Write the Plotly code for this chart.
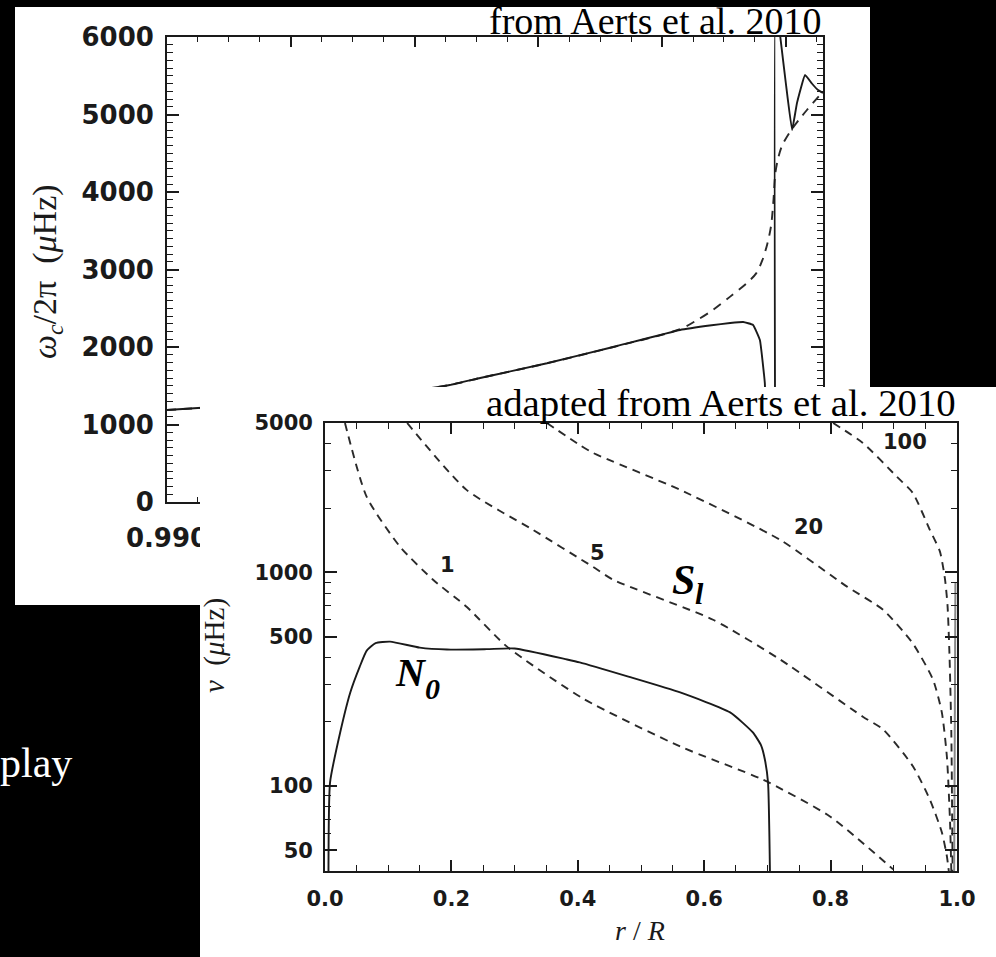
import math
import plotly.graph_objects as go

W, H = 996, 957

# ---------------- top chart: acoustic cut-off frequency near the surface ----------------
top_r_solid = [0.99000, 0.99200, 0.99400, 0.99457, 0.99506, 0.99614, 0.99721, 0.99829, 0.99880,
               0.99910, 0.99931, 0.99947, 0.99958, 0.99966, 0.99972, 0.99978, None,
               0.99983, 0.99983, 0.99991, 1.00000, 1.00010, 1.00018, 1.00031, 1.00042,
               1.00052, 1.00060]
top_wc_solid = [1187, 1290, 1440, 1510, 1600, 1790, 2000, 2220, 2280,
                2310, 2323, 2284, 2090, 1535, 300, -400, None,
                -400, 6500, 6000, 5400, 4800, 5150, 5510, 5400,
                5316, 5277]
top_r_dash = [0.99000, 0.99200, 0.99400, 0.99457, 0.99506, 0.99614, 0.99721, 0.99829, 0.99857,
              0.99882, 0.99910, 0.99937, 0.99952, 0.99962, 0.99970, 0.99976, 0.99980, 0.99983,
              0.99988, 0.99994, 1.00007, 1.00020, 1.00034, 1.00055]
top_wc_dash = [1187, 1290, 1440, 1510, 1600, 1790, 2000, 2230, 2350,
               2477, 2650, 2826, 2950, 3120, 3330, 3560, 3900, 4245,
               4450, 4600, 4780, 4920, 5058, 5250]
top_xtick_vals = [0.990, 0.992, 0.994, 0.996, 0.998, 1.000]
top_xtick_text = ["0.990", "0.992", "0.994", "0.996", "0.998", "1.000"]
top_ytick_vals = [0, 1000, 2000, 3000, 4000, 5000, 6000]
top_ytick_text = ["0", "1000", "2000", "3000", "4000", "5000", "6000"]

# ---------------- bottom chart: propagation diagram ----------------
N0_r = [0.0055, 0.0080, 0.024, 0.040, 0.055, 0.066, 0.080, 0.103, 0.150, 0.193, 0.256,
        0.300, 0.383, 0.403, 0.480, 0.562, 0.641, 0.677, 0.690, 0.696, 0.701, 0.704]
N0_nu = [40, 104, 178, 274, 362, 430, 466, 474, 444, 435, 437,
         440, 391, 379, 325, 274, 221, 178, 155, 133, 104, 40]
N0s_r = [0.9955, 0.9965, 0.9975]
N0s_nu = [40, 300, 900]

S1_r = [0.0316, 0.066, 0.119, 0.171, 0.224, 0.288, 0.409, 0.562, 0.693, 0.799, 0.899]
S1_nu = [5000, 2254, 1315, 923, 690, 449, 256, 153, 107, 72, 40.7]
S5_r = [0.130, 0.224, 0.329, 0.424, 0.456, 0.614, 0.720, 0.851, 0.883, 0.930, 0.957,
        0.976, 0.984, 0.987]
S5_nu = [5000, 2432, 1581, 1061, 923, 600, 391, 211, 184, 124, 86.5, 60.7, 46.9, 40]
S20_r = [0.351, 0.403, 0.424, 0.562, 0.720, 0.826, 0.883, 0.930, 0.962, 0.976, 0.984,
         0.989, 0.991]
S20_nu = [5000, 3945, 3624, 2432, 1420, 857, 668, 465, 315, 221, 137, 67.6, 40]
S100_r = [0.804, 0.851, 0.905, 0.930, 0.957, 0.973, 0.981, 0.985, 0.988, 0.991, 0.993]
S100_nu = [5000, 4034, 2800, 2355, 1581, 1250, 930, 700, 420, 180, 40]

bot_xtick_vals = [0.0, 0.2, 0.4, 0.6, 0.8, 1.0]
bot_xtick_text = ["0.0", "0.2", "0.4", "0.6", "0.8", "1.0"]
bot_ytick_vals = [50, 100, 500, 1000, 5000]
bot_ytick_text = ["50", "100", "500", "1000", "5000"]
bot_yminor_vals = [40, 60, 70, 80, 90, 200, 300, 400, 600, 700, 800, 900, 2000, 3000, 4000]


def px(x):
    return x / W


def py(y):
    return 1 - y / H


INK = "#1a1a1a"
DASH_INK = "#2a2a2a"
fig = go.Figure()

# top chart traces
fig.add_trace(go.Scatter(x=top_r_dash, y=top_wc_dash, mode="lines", xaxis="x", yaxis="y",
                         line=dict(color=DASH_INK, width=1.9, dash="9px,7px", shape="spline", smoothing=0.9),
                         showlegend=False, hoverinfo="skip"))
fig.add_trace(go.Scatter(x=top_r_solid, y=top_wc_solid, mode="lines", xaxis="x", yaxis="y",
                         line=dict(color=INK, width=1.9, shape="spline", smoothing=0.3),
                         connectgaps=False, showlegend=False, hoverinfo="skip"))

# empty subplot whose white plot area is the pasted second image (covers the top chart)
fig.add_trace(go.Scatter(x=[None], y=[None], mode="lines", xaxis="x2", yaxis="y2",
                         showlegend=False, hoverinfo="skip"))

# bottom chart traces
for rr, vv in [(S1_r, S1_nu), (S5_r, S5_nu), (S20_r, S20_nu), (S100_r, S100_nu)]:
    fig.add_trace(go.Scatter(x=rr, y=vv, mode="lines", xaxis="x3", yaxis="y3",
                             line=dict(color=DASH_INK, width=1.9, dash="8px,6px", shape="spline", smoothing=0.6),
                             showlegend=False, hoverinfo="skip"))
fig.add_trace(go.Scatter(x=N0_r, y=N0_nu, mode="lines", xaxis="x3", yaxis="y3",
                         line=dict(color=INK, width=1.9, shape="spline", smoothing=0.5),
                         showlegend=False, hoverinfo="skip"))
fig.add_trace(go.Scatter(x=N0s_r, y=N0s_nu, mode="lines", xaxis="x3", yaxis="y3",
                         line=dict(color="#888888", width=2),
                         showlegend=False, hoverinfo="skip"))

tick_top = dict(family="DejaVu Sans", size=26, color=INK, weight="bold")
tick_bot = dict(family="DejaVu Sans", size=21, color=INK, weight="bold")
axis_common = dict(showline=True, linecolor=INK, linewidth=1.8, mirror="ticks", automargin=False,
                   ticks="inside", tickcolor=INK, tickwidth=1.6, showgrid=False, zeroline=False)

fig.update_layout(
    width=W, height=H, margin=dict(l=0, r=0, t=0, b=0, autoexpand=False),
    paper_bgcolor="black", plot_bgcolor="white",
    xaxis=dict(domain=[px(167), px(823)], range=[0.990, 1.0006], anchor="y",
               tickmode="array", tickvals=top_xtick_vals, ticktext=top_xtick_text,
               ticklen=10, tickfont=tick_top, ticklabelstandoff=12,
               minor=dict(tick0=0.990, dtick=0.0005, ticklen=5, ticks="inside", tickcolor=INK, tickwidth=1.4),
               **axis_common),
    yaxis=dict(domain=[py(502), py(37)], range=[0, 6000], anchor="x",
               tickmode="array", tickvals=top_ytick_vals, ticktext=top_ytick_text,
               ticklen=12, tickfont=tick_top, ticklabelstandoff=6,
               minor=dict(tick0=0, dtick=100, ticklen=6, ticks="inside", tickcolor=INK, tickwidth=1.4),
               **axis_common),
    xaxis2=dict(domain=[px(200), 1.0], range=[0, 1], anchor="y2", visible=False, automargin=False),
    yaxis2=dict(domain=[0.0, py(387)], range=[0, 1], anchor="x2", visible=False, automargin=False),
    xaxis3=dict(domain=[px(325), px(957)], range=[0, 1], anchor="y3",
                tickmode="array", tickvals=bot_xtick_vals, ticktext=bot_xtick_text,
                ticklen=11, tickfont=tick_bot, ticklabelstandoff=8,
                minor=dict(tick0=0, dtick=0.05, ticklen=6, ticks="inside", tickcolor=INK, tickwidth=1.4),
                **axis_common),
    yaxis3=dict(domain=[py(871), py(423)], type="log", range=[math.log10(40), math.log10(5000)], anchor="x3",
                tickmode="array", tickvals=bot_ytick_vals, ticktext=bot_ytick_text,
                ticklen=12, tickfont=tick_bot, ticklabelstandoff=6,
                minor=dict(tickmode="array", tickvals=bot_yminor_vals, ticklen=6, ticks="inside",
                           tickcolor=INK, tickwidth=1.4),
                **axis_common),
)

# white background of the first pasted image (beneath its chart)
fig.add_shape(type="rect", xref="x domain", yref="y domain", layer="below",
              x0=(15 - 167) / 656, x1=(870 - 167) / 656, y0=(502 - 605) / 465, y1=(502 - 7) / 465,
              fillcolor="white", line=dict(width=0))

serif = "Liberation Serif"
ann = []
ann.append(dict(x=px(487), y=py(21), xanchor="left", yanchor="middle",
                text="from Aerts et al. 2010", font=dict(family=serif, size=38, color="black")))
ann.append(dict(x=px(484), y=py(403), xanchor="left", yanchor="middle",
                text="adapted from Aerts et al. 2010", font=dict(family=serif, size=38.8, color="black")))
ann.append(dict(x=px(74), y=py(763), xanchor="right", yanchor="middle",
                text="play", font=dict(family=serif, size=42, color="white")))
# axis titles
ann.append(dict(x=px(47), y=py(272), xanchor="center", yanchor="middle", textangle=-90,
                text="<i>ω</i><sub><i>c</i></sub>/2π  (<i>μ</i>Hz)",
                font=dict(family=serif, size=34, color=INK)))
ann.append(dict(x=px(214), y=py(646), xanchor="center", yanchor="middle", textangle=-90,
                text="<i>ν</i>  (<i>μ</i>Hz)", font=dict(family=serif, size=29, color=INK)))
ann.append(dict(x=px(640), y=py(930), xanchor="center", yanchor="middle",
                text="<i>r</i> / <i>R</i>", font=dict(family=serif, size=28, color=INK)))
# curve labels
for t, xx, yy in [("1", 447, 565), ("5", 597, 553), ("20", 808, 527), ("100", 905, 442)]:
    ann.append(dict(x=px(xx), y=py(yy), xanchor="center", yanchor="middle", text=t,
                    font=dict(family="DejaVu Sans", size=21, color=INK, weight="bold")))
ann.append(dict(x=px(683), y=py(580), xanchor="center", yanchor="middle", text="<b><i>S</i></b>",
                font=dict(family=serif, size=42, color="black")))
ann.append(dict(x=px(699), y=py(593), xanchor="center", yanchor="middle", text="<b><i>l</i></b>",
                font=dict(family=serif, size=30, color="black")))
ann.append(dict(x=px(411), y=py(672), xanchor="center", yanchor="middle", text="<b><i>N</i></b>",
                font=dict(family=serif, size=40, color="black")))
ann.append(dict(x=px(432), y=py(688), xanchor="center", yanchor="middle", text="<b><i>0</i></b>",
                font=dict(family=serif, size=30, color="black")))
for a in ann:
    a.update(xref="paper", yref="paper", showarrow=False)
fig.update_layout(annotations=ann)

fig.write_html("out.html")
